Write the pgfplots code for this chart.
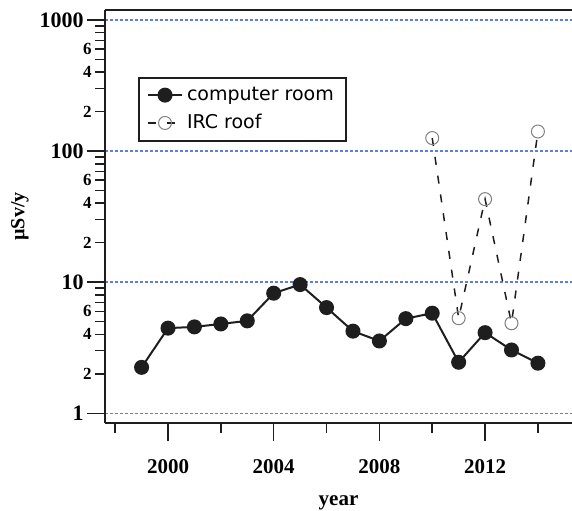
\documentclass[border=0pt]{standalone}
\usepackage{fontspec}
\setmainfont{Liberation Serif}
\newfontfamily\legfont{DejaVu Sans}
\usepackage{pgfplots}
\pgfplotsset{compat=1.18}
\definecolor{gridblue}{RGB}{95,125,220}
\definecolor{ink}{RGB}{30,30,30}
\begin{document}
\begin{tikzpicture}[x=1bp,y=1bp]
\path[use as bounding box] (0,0) rectangle (286,255.5);
\begin{axis}[
  at={(52.5bp,44bp)}, anchor=south west,
  scale only axis, width=233.5bp, height=206.5bp,
  ymode=log,
  xmin=1997.615, xmax=2015.29,
  ymin=0.843, ymax=1192,
  axis y line*=left,
  y axis line style={-},
  axis line style={line width=1bp, ink},
  xtick pos=bottom, ytick pos=left,
  tick align=outside,
  major tick length=9bp, minor tick length=5bp,
  tick style={line width=0.75bp, ink},
  xtick={2000,2004,2008,2012},
  xticklabels={2000,2004,2008,2012},
  minor xtick={1998,2002,2006,2010,2014},
  ytick={1,10,100,1000},
  yticklabels={1,10,100,1000},
  minor ytick={2,3,4,5,6,7,8,9,20,30,40,50,60,70,80,90,200,300,400,500,600,700,800,900},
  extra y ticks={2,4,6,20,40,60,200,400,600},
  extra y tick labels={2,4,6,2,4,6,2,4,6},
  extra y tick style={major tick length=5bp, grid=none,
     yticklabel style={font=\bfseries\fontsize{8.5bp}{10bp}\selectfont}},
  ymajorgrids,
  major grid style={gridblue, dash pattern=on 1.5bp off 1bp, line width=0.75bp},
  yticklabel style={font=\bfseries\fontsize{11bp}{13bp}\selectfont, inner sep=1.5bp},
  xticklabel style={font=\bfseries\fontsize{10.5bp}{12bp}\selectfont, yshift=-6bp},
  xlabel={\bfseries year},
  xlabel style={font=\fontsize{10.5bp}{12bp}\selectfont, at={(axis description cs:0.5,-0.193)}, anchor=center},
  ylabel={\bfseries µSv/y},
  ylabel style={font=\fontsize{10bp}{12bp}\selectfont, at={(axis description cs:-0.182,0.5)}, anchor=center, rotate=0},
  legend style={at={(axis description cs:0.0707,0.8378)}, anchor=north west,
     draw=ink, line width=1bp, font=\legfont\fontsize{9.5bp}{11bp}\selectfont,
     inner xsep=4bp, inner ysep=2.5bp, row sep=1.5bp,
     /tikz/every even column/.append style={column sep=4bp}},
  legend cell align=left,
]
\addplot[ink, line width=1bp, mark=*, mark size=3.25bp, mark options={solid, fill=ink}]
coordinates {(1999,2.24)(2000,4.46)(2001,4.56)(2002,4.8)(2003,5.07)(2004,8.24)(2005,9.59)(2006,6.4)(2007,4.23)(2008,3.56)(2009,5.27)(2010,5.8)(2011,2.45)(2012,4.12)(2013,3.04)(2014,2.41)};
\addlegendentry{computer room}
\addplot[ink, line width=0.75bp, dash pattern=on 4bp off 5.5bp, mark=o, mark size=3.25bp, mark options={solid, draw=gray, line width=0.5bp}]
coordinates {(2010,125.7)(2011,5.31)(2012,43)(2013,4.86)(2014,141)};
\addlegendentry{IRC roof}
\end{axis}
\end{tikzpicture}
\end{document}
